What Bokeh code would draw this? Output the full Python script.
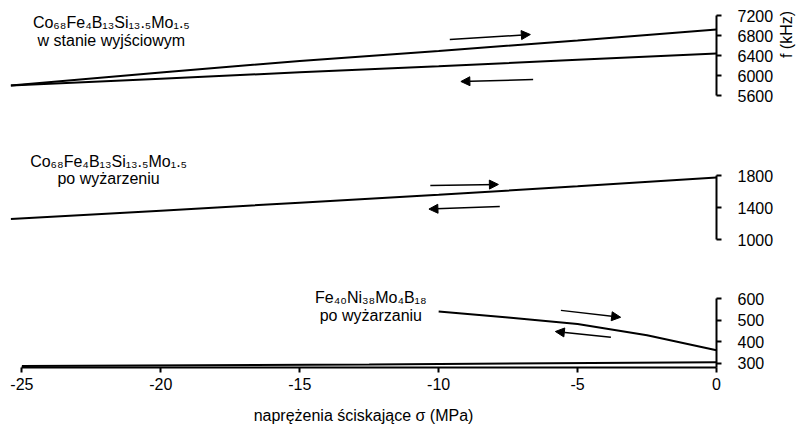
from math import pi
from bokeh.plotting import figure
from bokeh.layouts import column, row
from bokeh.models import Range1d, FixedTicker, Label, Arrow, NormalHead
from bokeh.embed import file_html
from bokeh.resources import INLINE

# ---------------- data ----------------
x_ticks = [-25, -20, -15, -10, -5, 0]
x_tick_labels = {-25: "-25", -20: "-20", -15: "-15", -10: "-10", -5: "-5", 0: "0"}
x_label = "naprężenia ściskające σ (MPa)"
y_label = "f (kHz)"

# panel 1: Co68Fe4B13Si13.5Mo1.5, as-cast
p1_x = [-25.4, -20, -15, -10, -5, 0]
p1_up = [5800, 6060, 6290, 6490, 6700, 6920]
p1_down = [5800, 5935, 6065, 6185, 6315, 6440]
p1_ticks = [5600, 6000, 6400, 6800, 7200]
p1_text = ["Co₆₈Fe₄B₁₃Si₁₃.₅Mo₁.₅", "w stanie wyjściowym"]

# panel 2: Co68Fe4B13Si13.5Mo1.5, annealed
p2_x = [-25.4, -20, -15, -10, -5, 0]
p2_f = [1255, 1360, 1460, 1560, 1665, 1775]
p2_ticks = [1000, 1400, 1800]
p2_text = ["Co₆₈Fe₄B₁₃Si₁₃.₅Mo₁.₅", "po wyżarzeniu"]

# panel 3: Fe40Ni38Mo4B18, annealed
p3_x_up = [-10, -7.5, -5, -2.5, 0]
p3_up = [540, 512, 482, 430, 360]
p3_x_low = [-25, -12.5, 0]
p3_low = [287, 294, 304]
p3_ticks = [300, 400, 500, 600]
p3_text = ["Fe₄₀Ni₃₈Mo₄B₁₈", "po wyżarzaniu"]

# arrows (x_start, y_start, x_end, y_end)
p1_arrows = [(-9.6, 6720, -6.7, 6820), (-6.6, 5920, -9.2, 5880)]
p2_arrows = [(-10.3, 1675, -7.85, 1688), (-7.8, 1412, -10.35, 1380)]
p3_arrows = [(-5.6, 545, -3.45, 513), (-3.8, 420, -5.8, 447)]

FONT = "Liberation Sans"
FS = "16px"

xr = Range1d(-25.41, 0)


def make_fig(h, bottom, yr, bounds, ticks, xaxis):
    p = figure(width=776, height=h, x_range=xr, y_range=Range1d(*yr),
               output_backend="svg", toolbar_location=None,
               y_axis_location="right",
               x_axis_location="below" if xaxis else None,
               min_border_left=10, min_border_right=60,
               min_border_top=0, min_border_bottom=bottom)
    p.grid.visible = False
    p.outline_line_color = None
    ax = p.yaxis[0]
    ax.bounds = bounds
    ax.ticker = FixedTicker(ticks=ticks)
    ax.minor_tick_line_color = None
    ax.major_tick_in = 0
    ax.major_tick_out = 5
    ax.axis_line_width = 2
    ax.major_tick_line_width = 2
    ax.major_label_text_font = FONT
    ax.major_label_text_font_size = FS
    ax.major_label_text_color = "black"
    ax.major_label_standoff = 16
    return p


def add_text(p, lines, x, ys):
    for t, y in zip(lines, ys):
        p.add_layout(Label(x=x, y=y, text=t, text_font=FONT, text_font_size=FS,
                           text_align="center", text_baseline="middle",
                           text_color="black"))


def add_arrows(p, arrows):
    for xs, ys, xe, ye in arrows:
        p.add_layout(Arrow(x_start=xs, y_start=ys, x_end=xe, y_end=ye,
                           line_width=1.5, line_color="black",
                           end=NormalHead(size=9, fill_color="black",
                                          line_color="black", line_width=1)))


# ---------- panel 1 ----------
f1 = make_fig(135, 0, (4800, 7500), (5600, 7200), p1_ticks, False)
f1.line(p1_x, p1_up, line_color="black", line_width=2)
f1.line(p1_x, p1_down, line_color="black", line_width=2)
add_text(f1, p1_text, -21.78, [7060, 6700])
add_arrows(f1, p1_arrows)

# ---------- panel 2 ----------
f2 = make_fig(135, 0, (612.5, 2300), (1000, 1800), p2_ticks, False)
f2.line(p2_x, p2_f, line_color="black", line_width=2)
add_text(f2, p2_text, -21.88, [1975, 1762])
add_arrows(f2, p2_arrows)

# ---------- panel 3 ----------
f3 = make_fig(158, 61, (280, 730), (280, 600), p3_ticks, True)
f3.line(p3_x_up, p3_up, line_color="black", line_width=2)
f3.line(p3_x_low, p3_low, line_color="black", line_width=2)
add_text(f3, p3_text, -12.44, [605, 521])
add_arrows(f3, p3_arrows)

xa = f3.xaxis[0]
xa.bounds = (-25, 0)
xa.ticker = FixedTicker(ticks=x_ticks)
xa.major_label_overrides = x_tick_labels
xa.minor_tick_line_color = None
xa.major_tick_in = 0
xa.major_tick_out = 5
xa.axis_line_width = 2
xa.major_tick_line_width = 2
xa.major_label_text_font = FONT
xa.major_label_text_font_size = FS
xa.major_label_text_color = "black"
xa.major_label_standoff = 5
xa.axis_label = x_label
xa.axis_label_text_font = FONT
xa.axis_label_text_font_size = FS
xa.axis_label_text_font_style = "normal"
xa.axis_label_text_color = "black"
xa.axis_label_standoff = 14

# ---------- side strip with the y-axis title ----------
side = figure(width=20, height=135, x_range=Range1d(0, 20), y_range=Range1d(0, 135),
              output_backend="svg", toolbar_location=None,
              x_axis_location=None, y_axis_location=None,
              min_border_left=0, min_border_right=0,
              min_border_top=0, min_border_bottom=0)
side.grid.visible = False
side.outline_line_color = None
side.add_layout(Label(x=10, y=101, text=y_label, angle=pi / 2, text_font=FONT,
                      text_font_size=FS, text_align="center",
                      text_baseline="middle", text_color="black"))

layout = row(column(f1, f2, f3), side)
open("out.html", "w").write(file_html(layout, INLINE))
